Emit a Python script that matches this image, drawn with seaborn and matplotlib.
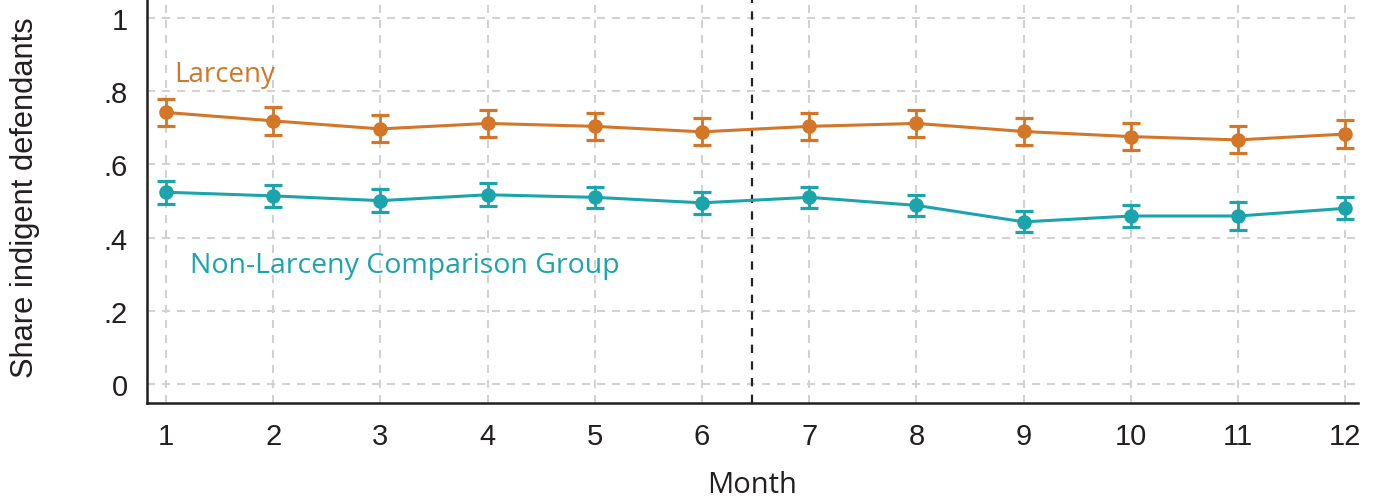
import numpy as np
import pandas as pd
import matplotlib
matplotlib.use("Agg")
import matplotlib.pyplot as plt
import seaborn as sns

# Monthly share of indigent defendants, with 95% CI half-widths
months = [1, 2, 3, 4, 5, 6, 7, 8, 9, 10, 11, 12]
larceny = [0.742, 0.719, 0.697, 0.712, 0.704, 0.689, 0.704, 0.712, 0.690, 0.676, 0.667, 0.683]
larceny_err = [0.037, 0.038, 0.037, 0.037, 0.037, 0.037, 0.037, 0.037, 0.037, 0.037, 0.037, 0.037]
comparison = [0.524, 0.514, 0.501, 0.517, 0.510, 0.495, 0.510, 0.488, 0.443, 0.459, 0.459, 0.480]
comparison_err = [0.031, 0.031, 0.031, 0.031, 0.029, 0.030, 0.029, 0.029, 0.029, 0.030, 0.037, 0.030]
y_ticks = [0, 0.2, 0.4, 0.6, 0.8, 1.0]
y_tick_labels = ["0", ".2", ".4", ".6", ".8", "1"]
series_names = ["Larceny", "Non-Larceny Comparison Group"]

ORANGE = "#D47628"
TEAL = "#1CA4AD"

sns.set_theme(style="white")
plt.rcParams["lines.scale_dashes"] = False
plt.rcParams["font.family"] = ["Liberation Sans", "DejaVu Sans"]

df = pd.concat([
    pd.DataFrame({"month": months, "share": larceny, "group": series_names[0]}),
    pd.DataFrame({"month": months, "share": comparison, "group": series_names[1]}),
])

fig = plt.figure(figsize=(13.84, 5.02), dpi=100)
ax = fig.add_axes([0.1062, 0.1952, 0.981 - 0.1062, 1.0 - 0.1952])

# dashed grid
for m in months:
    ax.axvline(m, color="#d2d2d2", lw=1.5, ls=(0, (5.8, 5.0)), zorder=0)
for t in y_ticks:
    ax.axhline(t, color="#d2d2d2", lw=1.5, ls=(0, (5.8, 5.0)), zorder=0)

# intervention marker between months 6 and 7
ax.axvline(6.47, color="#222222", lw=1.6, ls=(0, (6, 6)), zorder=1)

sns.lineplot(data=df, x="month", y="share", hue="group",
             palette=[ORANGE, TEAL], marker="o", markersize=10.5,
             markeredgewidth=0, linewidth=2.2, legend=False, ax=ax, zorder=3)

for vals, errs, col in [(larceny, larceny_err, ORANGE), (comparison, comparison_err, TEAL)]:
    ax.errorbar(months, vals, yerr=errs, fmt="none", ecolor=col,
                elinewidth=2.0, capsize=6.4, capthick=2.3, zorder=2)

ax.set_xlim(0.823, 12.115)
ax.set_ylim(-0.052, 1.052)
ax.set_xticks(months)
ax.set_xticklabels([str(m) for m in months])
ax.set_yticks(y_ticks)
ax.set_yticklabels(y_tick_labels)
ax.tick_params(axis="both", length=0, labelsize=21, colors="#231f20")
ax.tick_params(axis="x", pad=14)
ax.tick_params(axis="y", pad=14)

for s in ["top", "right"]:
    ax.spines[s].set_visible(False)
for s in ["left", "bottom"]:
    ax.spines[s].set_color("#231f20")
    ax.spines[s].set_linewidth(1.8)

ax.set_xlabel("Month", family=["Open Sans", "DejaVu Sans"], fontsize=21,
              color="#231f20")
ax.set_ylabel("Share indigent defendants", fontsize=22.2, color="#231f20")
ax.xaxis.set_label_coords(0.5, -0.166)
ax.yaxis.set_label_coords(-0.088, 0.51)

ax.text(1.08, 0.847, series_names[0], color=ORANGE, fontsize=20,
        family=["Open Sans", "DejaVu Sans"], va="center", ha="left")
ax.text(1.22, 0.326, series_names[1], color=TEAL, fontsize=20.5,
        family=["Open Sans", "DejaVu Sans"], va="center", ha="left")

fig.savefig("out.png", dpi=100)
